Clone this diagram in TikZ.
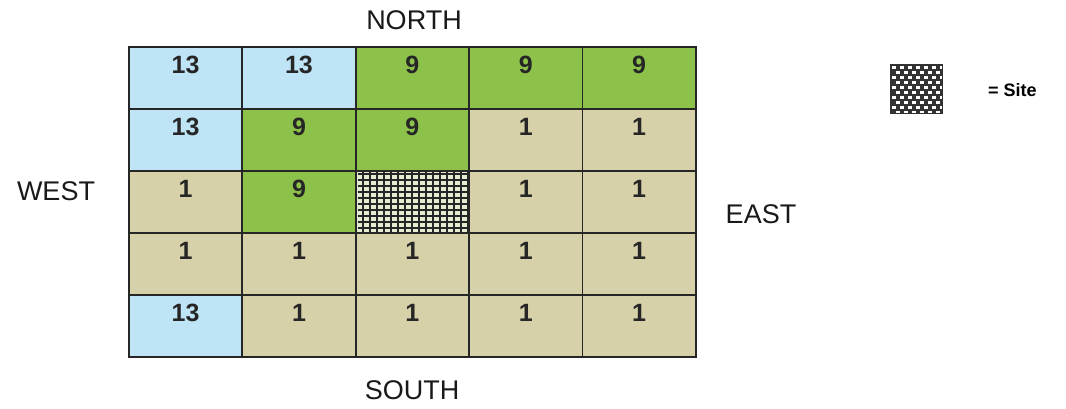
\documentclass[tikz,border=0pt]{standalone}
\usepackage{fontspec}
\setmainfont{Liberation Sans}
\definecolor{cblue}{HTML}{BEE4F5}
\definecolor{cgreen}{HTML}{8DC24A}
\definecolor{ctan}{HTML}{D6D1A8}
\definecolor{csite}{HTML}{E4ECD2}
\begin{document}
\begin{tikzpicture}[x=1pt,y=-1pt,
  cell/.style={draw=black!85, line width=1.7pt, minimum width=113.4pt, minimum height=62pt,
    anchor=north west, inner sep=0pt, text height=27pt, text depth=35pt,
    font=\fontsize{25}{25}\selectfont\bfseries, text=black!85},
  bl/.style={cell, fill=cblue},
  gr/.style={cell, fill=cgreen},
  tn/.style={cell, fill=ctan},
  compass/.style={font=\fontsize{27}{27}\selectfont, text=black!90, inner sep=0pt}]
\useasboundingbox (0,0) rectangle (1066,409);
% row 1
\node[bl] (c11) at (128,46) {13};
\node[bl] (c12) at (241.4,46) {13};
\node[gr] (c13) at (354.8,46) {9};
\node[gr] (c14) at (468.2,46) {9};
\node[gr] (c15) at (581.6,46) {9};
% row 2
\node[bl] (c21) at (128,108) {13};
\node[gr] (c22) at (241.4,108) {9};
\node[gr] (c23) at (354.8,108) {9};
\node[tn] (c24) at (468.2,108) {1};
\node[tn] (c25) at (581.6,108) {1};
% row 3
\node[tn] (c31) at (128,170) {1};
\node[gr] (c32) at (241.4,170) {9};
\node[cell, fill=csite, path picture={
  \draw[black!85, line width=2.2pt, xstep=7pt, ystep=6pt]
    ([xshift=2pt,yshift=-2pt]path picture bounding box.south west) grid (path picture bounding box.north east);}]
  (c33) at (354.8,170) {};
\node[tn] (c34) at (468.2,170) {1};
\node[tn] (c35) at (581.6,170) {1};
% row 4
\node[tn] (c41) at (128,232) {1};
\node[tn] (c42) at (241.4,232) {1};
\node[tn] (c43) at (354.8,232) {1};
\node[tn] (c44) at (468.2,232) {1};
\node[tn] (c45) at (581.6,232) {1};
% row 5
\node[bl] (c51) at (128,294) {13};
\node[tn] (c52) at (241.4,294) {1};
\node[tn] (c53) at (354.8,294) {1};
\node[tn] (c54) at (468.2,294) {1};
\node[tn] (c55) at (581.6,294) {1};
% compass labels
\node[compass] (north) at (414,20) {NORTH};
\node[compass] (south) at (412,390) {SOUTH};
\node[compass] (west) at (56,191) {WEST};
\node[compass] (east) at (761,214) {EAST};
% legend
\node[draw=black!80, fill=black!80, minimum width=52pt, minimum height=49pt, inner sep=0pt,
  path picture={
    \foreach \r in {0,...,9}{
      \pgfmathsetmacro{\off}{mod(\r,2)*4}
      \foreach \c in {0,...,6}{
        \fill[white] ([xshift=2pt+\off pt+\c*8pt, yshift=-2pt-\r*5pt]path picture bounding box.north west)
          rectangle ++(4pt,-3pt);
      }
    }
  }] (legsq) at (916,89) {};
\node[font=\fontsize{18}{18}\selectfont\bfseries, inner sep=0pt, anchor=west] (legtxt) at (988,90) {= Site};
\end{tikzpicture}
\end{document}
